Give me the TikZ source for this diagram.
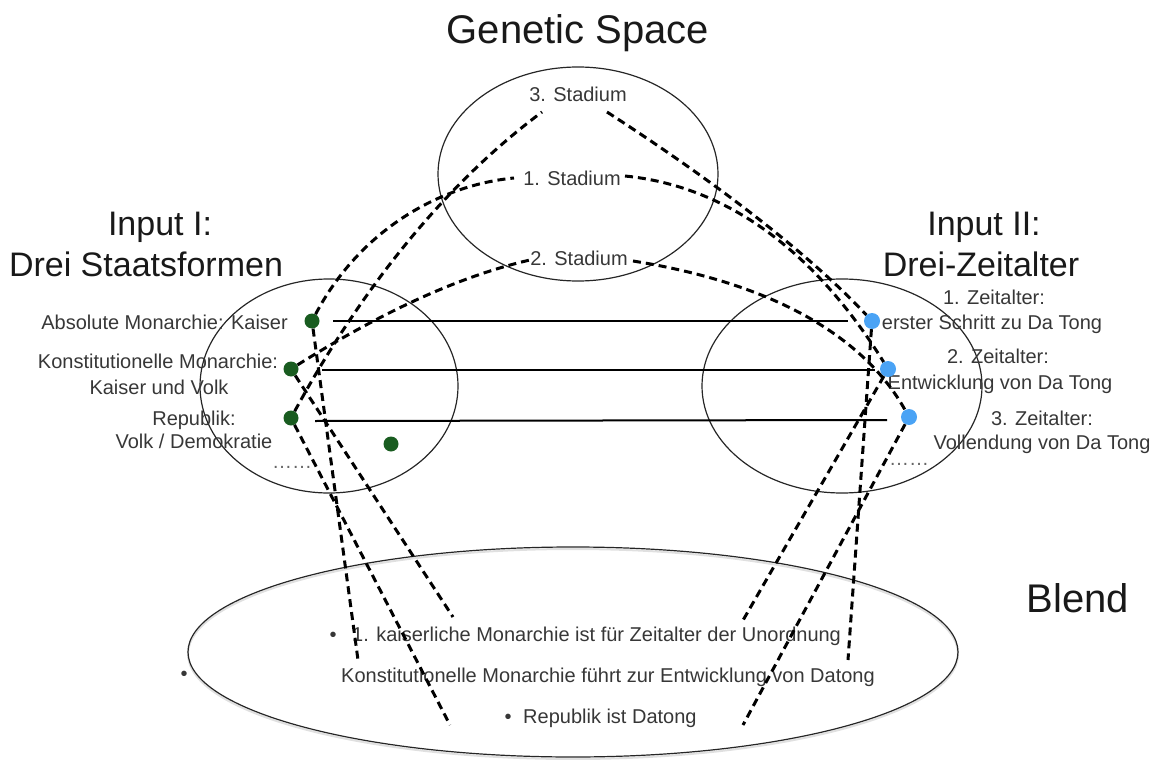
\documentclass[tikz,border=0pt]{standalone}
\usepackage{fontspec}
\setmainfont{Liberation Sans}
\usetikzlibrary{shapes.geometric}
\definecolor{dotgreen}{RGB}{25,92,32}
\definecolor{dotblue}{RGB}{74,163,245}
\definecolor{inkgray}{RGB}{55,55,55}

\begin{document}
\begin{tikzpicture}[x=1pt,y=-1pt,
  space/.style={draw=black!85, line width=1.2pt, ellipse, inner sep=0pt},
  bigtitle/.style={font=\fontsize{40}{48}\selectfont, text=black!90, inner sep=0pt, anchor=base},
  subtitle/.style={font=\fontsize{34}{41}\selectfont, text=black!90, inner sep=0pt, anchor=base},
  lbl/.style={font=\fontsize{20}{25}\selectfont, text=inkgray, inner sep=0pt, anchor=base},
  gdot/.style={circle, fill=dotgreen, minimum size=15pt, inner sep=0pt},
  bdot/.style={circle, fill=dotblue, minimum size=16pt, inner sep=0pt},
  link/.style={line width=3pt, dash pattern=on 8pt off 5pt, black},
  bar/.style={line width=2pt, black}]
\useasboundingbox (0,0) rectangle (1160,760);

% the four spaces; the blend carries a faint shadow along its lower rim
\node[space, minimum width=280pt, minimum height=214pt] (gs) at (578,174) {};
\node[space, minimum width=258pt, minimum height=214pt] (in1) at (329,386) {};
\node[space, minimum width=280pt, minimum height=214pt] (in2) at (842,386) {};
\node[space, draw=black!12, line width=2pt, minimum width=770pt, minimum height=210pt] (blshadow) at (573,654) {};
\node[space, minimum width=770pt, minimum height=210pt] (bl) at (573,652) {};

% titles
\node[bigtitle] (tgs) at (578,44) {Genetic Space};
\node[subtitle] (ti1a) at (160,235) {Input I:};
\node[subtitle] (ti1b) at (146,276) {Drei Staatsformen};
\node[subtitle] (ti2a) at (984,235) {Input II:};
\node[subtitle] (ti2b) at (981,276) {Drei-Zeitalter};
\node[bigtitle] (tbl) at (1078,612) {Blend};

% generic stages
\node[lbl] (s3) at (578,102) {3. Stadium};
\node[lbl] (s1) at (572,185) {1. Stadium};
\node[lbl] (s2) at (579,265) {2. Stadium};
\coordinate (s3w) at (542,112);
\coordinate (s3e) at (607,112);
\coordinate (s1w) at (514,178);
\coordinate (s1e) at (625,176);
\coordinate (s2w) at (530,260);
\coordinate (s2e) at (633,261);

% input I labels
\node[lbl, anchor=base east] (la) at (288,329) {Absolute Monarchie: Kaiser};
\node[lbl] (lk1) at (158,368) {Konstitutionelle Monarchie:};
\node[lbl] (lk2) at (159,394) {Kaiser und Volk};
\node[lbl] (lr1) at (194,425) {Republik:};
\node[lbl] (lr2) at (194,448) {Volk / Demokratie};
\node[lbl, text=black!60] (ld) at (292,468) {……};

% input II labels
\node[lbl] (z1a) at (994,304) {1. Zeitalter:};
\node[lbl] (z1b) at (992,329) {erster Schritt zu Da Tong};
\node[lbl] (z2a) at (998,363) {2. Zeitalter:};
\node[lbl] (z2b) at (1000,389) {Entwicklung von Da Tong};
\node[lbl] (z3a) at (1042,425) {3. Zeitalter:};
\node[lbl] (z3b) at (1042,449) {Vollendung von Da Tong};
\node[lbl, text=black!60] (zd) at (909,465) {……};

% blend statements
\node[lbl] (bb1) at (333,641) {•};
\node[lbl, anchor=base west] (bt1) at (352,641) {1. kaiserliche Monarchie ist für Zeitalter der Unordnung};
\node[lbl] (bb2) at (184,680) {•};
\node[lbl, anchor=base west] (bt2) at (341,682) {Konstitutionelle Monarchie führt zur Entwicklung von Datong};
\node[lbl] (bb3) at (508,723) {•};
\node[lbl, anchor=base west] (bt3) at (523,723) {Republik ist Datong};

% elements of the inputs
\node[gdot] (k1) at (312,321) {};
\node[gdot] (k2) at (291,369) {};
\node[gdot] (k3) at (291,418) {};
\node[gdot] (k4) at (391,444) {};
\node[bdot] (e1) at (872,321) {};
\node[bdot] (e2) at (888,369) {};
\node[bdot] (e3) at (909,417) {};

% cross-space mapping
\draw[bar] ([xshift=21pt]k1.center) -- ([xshift=-24pt]e1.center);
\draw[bar] ([xshift=31pt,yshift=-1pt]k2.center) -- ([xshift=-13pt,yshift=-1pt]e2.center);
\draw[bar] ([xshift=24pt,yshift=-3pt]k3.center) -- ([xshift=-22pt,yshift=-3pt]e3.center);

% ends of the projections in the blend
\coordinate (bk1) at (358,660);
\coordinate (bk2) at (453,617);
\coordinate (bk3) at (450,725);
\coordinate (be1) at (848,660);
\coordinate (be2) at (742,622);
\coordinate (be3) at (743,725);

% generic space to input I
\draw[link] (k1) .. controls (360,230) and (440,185) .. (s1w);
\draw[link] (k2) .. controls (382,312) and (460,276) .. (s2w);
\draw[link] (k3) .. controls (364,284) and (448,182) .. (s3w);

% generic space to input II
\draw[link] (s3e) .. controls (726,189) and (814,259) .. (e1);
\draw[link] (s1e) .. controls (726,186) and (814,250) .. (e2);
\draw[link] (s2e) .. controls (771,283) and (863,335) .. (e3);

% inputs to blend
\draw[link] (k1) -- (bk1);
\draw[link] (k2) -- (bk2);
\draw[link] (k3) -- (bk3);
\draw[link] (e1) -- (be1);
\draw[link] (e2) -- (be2);
\draw[link] (e3) -- (be3);
\end{tikzpicture}
\end{document}
